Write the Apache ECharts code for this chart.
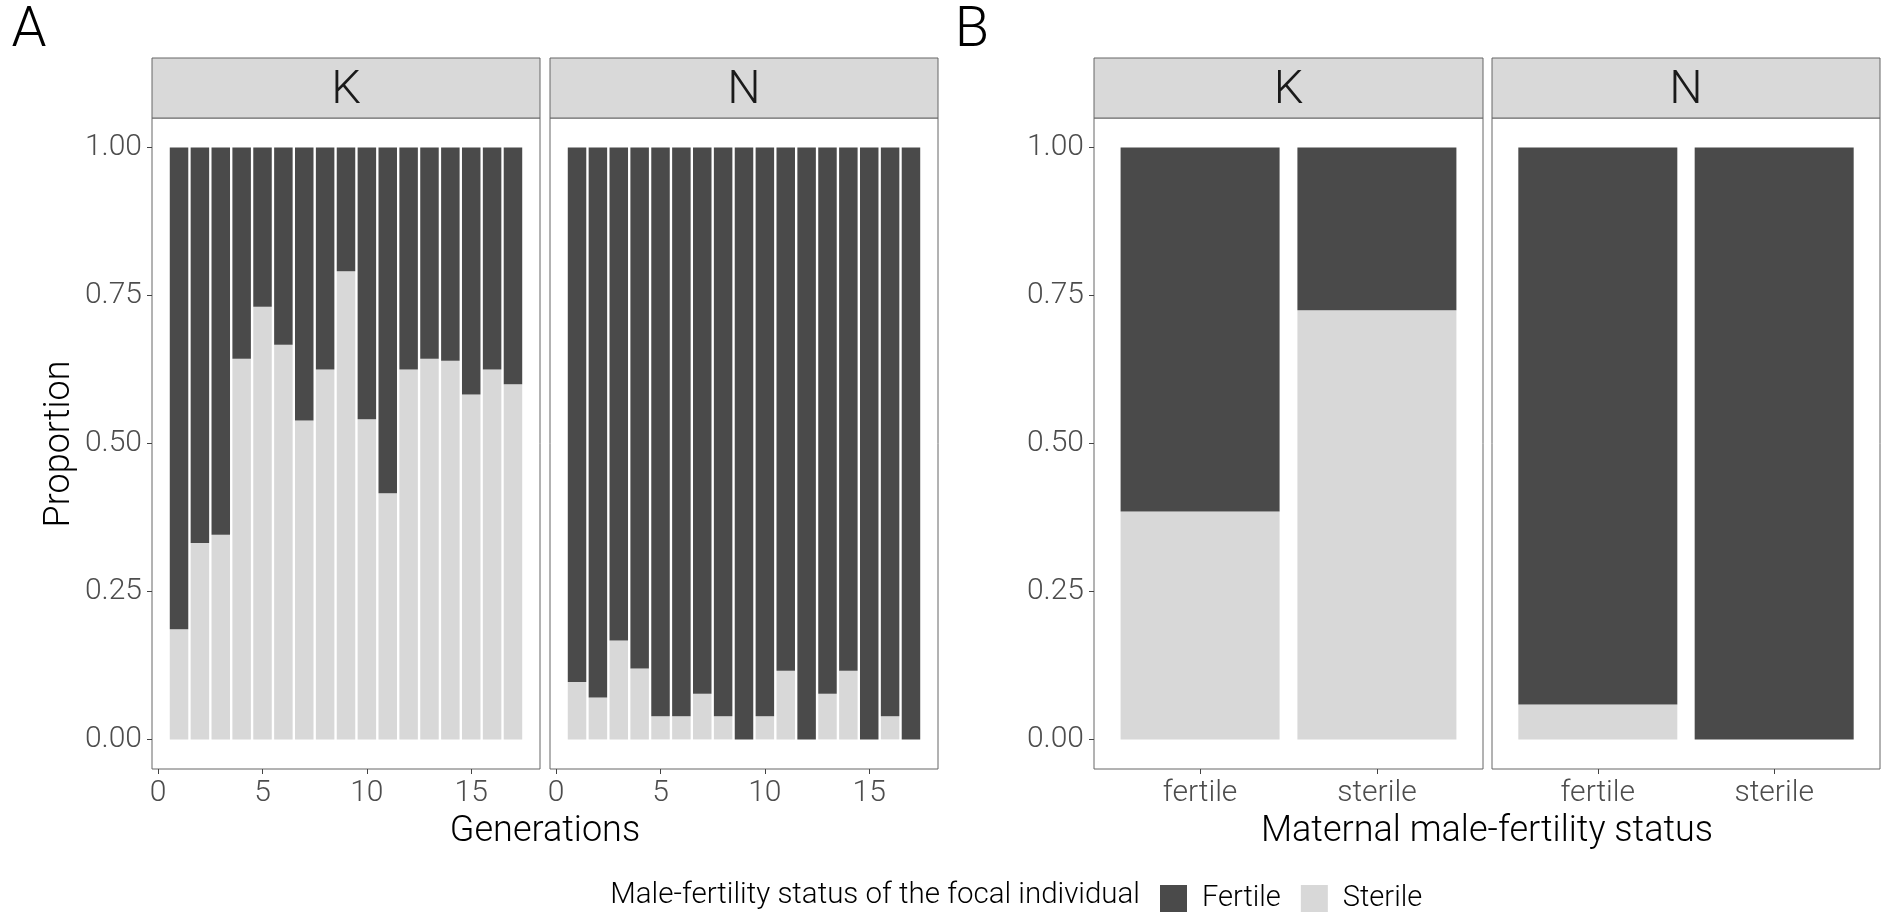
<!DOCTYPE html>
<html>
<head>
<meta charset="utf-8">
<script src="https://cdn.jsdelivr.net/npm/echarts@6/dist/echarts.min.js"></script>
<style>
html,body{margin:0;padding:0;background:#fff;}
#c{width:1881px;height:913px;}
</style>
</head>
<body>
<div id="c"></div>
<script>
// ---- data ----
const generations = [1,2,3,4,5,6,7,8,9,10,11,12,13,14,15,16,17];
const kSterile = [0.186,0.332,0.346,0.643,0.731,0.667,0.539,0.625,0.791,0.541,0.416,0.625,0.643,0.640,0.583,0.625,0.600];
const kFertile = [0.814,0.668,0.654,0.357,0.269,0.333,0.461,0.375,0.209,0.459,0.584,0.375,0.357,0.360,0.417,0.375,0.400];
const nSterile = [0.097,0.071,0.167,0.120,0.039,0.039,0.077,0.039,0.000,0.039,0.116,0.000,0.077,0.116,0.000,0.039,0.000];
const nFertile = [0.903,0.929,0.833,0.880,0.961,0.961,0.923,0.961,1.000,0.961,0.884,1.000,0.923,0.884,1.000,0.961,1.000];
const maternalCats = ['fertile','sterile'];
const maternalPos = [1,2];
const bKSterile = [0.385,0.725];
const bKFertile = [0.615,0.275];
const bNSterile = [0.059,0.000];
const bNFertile = [0.941,1.000];
const genTicks = [0,5,10,15];
const yTicks = [0,0.25,0.5,0.75,1];
const facets = ['K','N'];

// ---- styling / layout ----
const FONT = 'Roboto';
const DARK = '#4a4a4a', LIGHT = '#d8d8d8';
const TOP = 118, H = 651, STRIP_TOP = 58, STRIP_H = 60;
const panels = [
  {left:152, width:388}, {left:550, width:388},
  {left:1094, width:389}, {left:1492, width:388}
];
const labelStyle = {fontFamily:FONT, fontWeight:300, fontSize:30, color:'#4d4d4d'};

const chart = echarts.init(document.getElementById('c'), null, {renderer:'canvas'});

const grids = panels.map(p => ({left:p.left, width:p.width, top:TOP, height:H,
  show:true, borderColor:'#666', borderWidth:1, backgroundColor:'transparent', containLabel:false}));

function xAxisGen(gi){
  return {type:'value', gridIndex:gi, min:-0.295, max:18.295,
    axisLine:{show:false, onZero:false}, splitLine:{show:false},
    axisTick:{show:true, customValues:genTicks, length:5, lineStyle:{color:'#444', width:1}},
    axisLabel:Object.assign({customValues:genTicks, margin:9}, labelStyle)};
}
function xAxisCat(gi){
  return {type:'value', gridIndex:gi, min:0.4, max:2.6,
    axisLine:{show:false, onZero:false}, splitLine:{show:false},
    axisTick:{show:true, customValues:maternalPos, length:5, lineStyle:{color:'#444', width:1}},
    axisLabel:Object.assign({customValues:maternalPos, margin:9,
      formatter: v => maternalCats[Math.round(v)-1] || ''}, labelStyle)};
}
function yAxis(gi, show){
  return {type:'value', gridIndex:gi, min:-0.05, max:1.05,
    axisLine:{show:false, onZero:false}, splitLine:{show:false},
    axisTick:{show:show, customValues:yTicks, length:5, lineStyle:{color:'#444', width:1}},
    axisLabel:Object.assign({show:show, customValues:yTicks, margin:10,
      formatter: v => v.toFixed(2)}, labelStyle)};
}

// value first, position second, so that the stack is computed on the value dimension
function pairs(xs, ys){ return xs.map((x,i)=>[ys[i], x]); }

function stackSeries(gi, xs, sterile, fertile, bw){
  return [
    {type:'bar', name:'Sterile', xAxisIndex:gi, yAxisIndex:gi, stack:'s'+gi,
      encode:{x:1, y:0}, barWidth:bw, data:pairs(xs, sterile), itemStyle:{color:LIGHT}, silent:true},
    {type:'bar', name:'Fertile', xAxisIndex:gi, yAxisIndex:gi, stack:'s'+gi,
      encode:{x:1, y:0}, barWidth:bw, data:pairs(xs, fertile), itemStyle:{color:DARK}, silent:true}
  ];
}

const graphics = [];
panels.forEach((p, i) => {
  graphics.push({type:'rect', shape:{x:p.left, y:STRIP_TOP, width:p.width, height:STRIP_H},
    style:{fill:'#d9d9d9', stroke:'#666', lineWidth:1}});
  graphics.push({type:'text', x:p.left + p.width/2, y:STRIP_TOP + STRIP_H/2 + 3,
    style:{text:facets[i % 2], fontFamily:FONT, fontWeight:300, fontSize:47, fill:'#1a1a1a',
      textAlign:'center', textVerticalAlign:'middle'}});
});
const titleFont = {fontFamily:FONT, fontWeight:300, fontSize:36, fill:'#000'};
graphics.push({type:'text', x:(152+938)/2, y:832,
  style:Object.assign({text:'Generations', textAlign:'center', textVerticalAlign:'middle'}, titleFont)});
graphics.push({type:'text', x:(1094+1880)/2, y:832,
  style:Object.assign({text:'Maternal male-fertility status', textAlign:'center', textVerticalAlign:'middle'}, titleFont)});
graphics.push({type:'text', x:60, y:444, rotation:Math.PI/2,
  style:Object.assign({text:'Proportion', textAlign:'center', textVerticalAlign:'middle'}, titleFont)});
graphics.push({type:'text', x:29, y:32,
  style:{text:'A', fontFamily:FONT, fontWeight:300, fontSize:56, fill:'#000', textAlign:'center', textVerticalAlign:'middle'}});
graphics.push({type:'text', x:972, y:32,
  style:{text:'B', fontFamily:FONT, fontWeight:300, fontSize:56, fill:'#000', textAlign:'center', textVerticalAlign:'middle'}});
graphics.push({type:'text', x:1140, y:896,
  style:{text:'Male-fertility status of the focal individual', fontFamily:FONT, fontWeight:300, fontSize:29.5, fill:'#000',
    textAlign:'right', textVerticalAlign:'middle'}});

const option = {
  animation:false,
  backgroundColor:'#fff',
  grid:grids,
  xAxis:[xAxisGen(0), xAxisGen(1), xAxisCat(2), xAxisCat(3)],
  yAxis:[yAxis(0,true), yAxis(1,false), yAxis(2,true), yAxis(3,false)],
  legend:{data:['Fertile','Sterile'], left:1155, top:879, icon:'rect', itemWidth:27, itemHeight:27,
    itemGap:20, selectedMode:false,
    textStyle:{fontFamily:FONT, fontWeight:300, fontSize:29, color:'#000', padding:[0,0,0,10]}},
  series:[].concat(
    stackSeries(0, generations, kSterile, kFertile, 18.5),
    stackSeries(1, generations, nSterile, nFertile, 18.5),
    stackSeries(2, maternalPos, bKSterile, bKFertile, 159),
    stackSeries(3, maternalPos, bNSterile, bNFertile, 159)
  ),
  graphic:{elements:graphics}
};
chart.setOption(option);
</script>
</body>
</html>
